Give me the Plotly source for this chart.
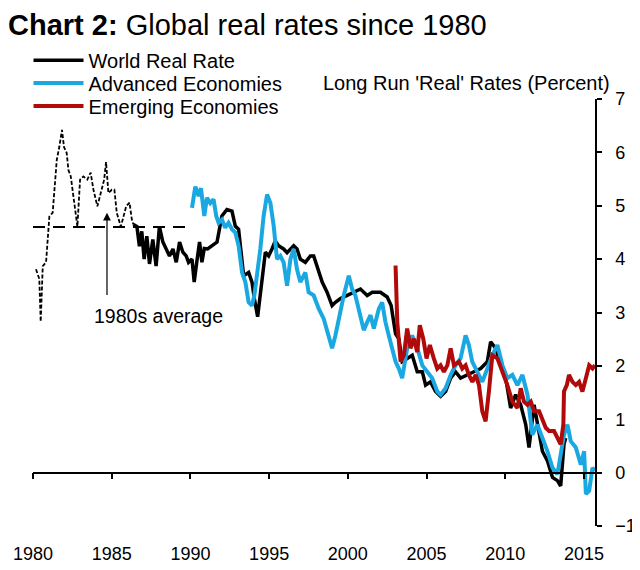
import plotly.graph_objects as go

# world real rate, early years (dashed, before the solid series begins)
early_years = [1980.19, 1980.40, 1980.49, 1980.62, 1980.83, 1981.04, 1981.25, 1981.51,
               1981.67, 1981.84, 1981.97, 1982.14, 1982.25, 1982.40, 1982.82, 1982.99,
               1983.20, 1983.45, 1983.66, 1983.84, 1984.09, 1984.37, 1984.52, 1984.64,
               1984.79, 1985.01, 1985.17, 1985.32, 1985.58, 1985.92, 1986.13, 1986.28,
               1986.38]
early_rate = [3.81, 3.63, 2.83, 3.87, 3.94, 4.80, 4.87, 5.86,
              6.10, 6.42, 6.10, 5.99, 5.67, 5.55, 4.61, 5.49,
              5.55, 5.49, 5.62, 5.30, 4.99, 5.30, 5.49, 5.82,
              5.24, 5.30, 5.30, 4.87, 4.61, 4.99, 5.06, 4.74,
              4.65]

# 1980s average
avg_years = [1980.0, 1990.1]
avg_rate = [4.6, 4.6]

world_years = [1986.38, 1986.60, 1986.76, 1986.91, 1987.06, 1987.23, 1987.40, 1987.61,
               1987.82, 1988.03, 1988.25, 1988.46, 1988.67, 1988.89, 1989.10, 1989.31,
               1989.52, 1989.73, 1989.88, 1990.10, 1990.24, 1990.41, 1990.58, 1990.73,
               1990.88, 1991.09, 1991.37, 1991.69, 1992.00, 1992.32, 1992.64, 1992.85,
               1993.06, 1993.38, 1993.70, 1993.91, 1994.06, 1994.27, 1994.76, 1994.97,
               1995.18, 1995.39, 1995.60, 1995.92, 1996.14, 1996.56, 1996.77, 1996.98,
               1997.30, 1997.62, 1997.83, 1998.05, 1998.37, 1998.68, 1999.00, 1999.21,
               1999.53, 1999.96, 2000.38, 2000.80, 2001.23, 2001.55, 2002.07, 2002.50,
               2002.75, 2003.03, 2003.24, 2003.45, 2003.77, 2004.09, 2004.41, 2004.73,
               2004.94, 2005.25, 2005.57, 2005.89, 2006.21, 2006.53, 2006.84, 2007.16,
               2008.01, 2008.44, 2008.86, 2009.07, 2009.39, 2009.71, 2010.03, 2010.34,
               2010.66, 2010.98, 2011.30, 2011.51, 2011.83, 2012.36, 2012.68, 2013.00,
               2013.31, 2013.52, 2013.73, 2013.84]
world_rate = [4.65, 4.61, 4.24, 4.52, 4.00, 4.43, 3.91, 4.37,
              3.87, 4.61, 4.32, 4.19, 4.06, 4.19, 3.94, 4.32,
              4.13, 4.06, 3.94, 4.00, 3.57, 3.96, 4.32, 3.94,
              4.20, 4.19, 4.25, 4.32, 4.81, 4.93, 4.90, 4.62,
              4.56, 3.69, 3.75, 3.57, 3.26, 2.92, 4.13, 4.06,
              4.19, 4.34, 4.25, 4.19, 4.12, 4.25, 4.19, 4.00,
              3.94, 4.06, 4.06, 3.88, 3.57, 3.38, 3.13, 3.19,
              3.26, 3.32, 3.38, 3.44, 3.32, 3.38, 3.38, 3.29,
              3.13, 2.60, 2.51, 2.08, 2.14, 2.20, 1.89, 1.89,
              1.64, 1.70, 1.52, 1.43, 1.52, 1.77, 1.89, 1.77,
              1.89, 1.95, 2.08, 2.45, 2.33, 2.01, 1.77, 1.21,
              1.46, 1.27, 0.90, 0.47, 1.27, 0.40, 0.22, -0.09,
              -0.15, -0.25, 0.53, 0.65]

adv_years = [1990.10, 1990.31, 1990.52, 1990.67, 1990.88, 1991.05, 1991.26, 1991.47,
             1991.64, 1991.79, 1992.00, 1992.21, 1992.42, 1992.64, 1992.85, 1993.06,
             1993.28, 1993.49, 1993.70, 1993.91, 1994.06, 1994.23, 1994.44, 1994.65,
             1994.87, 1995.08, 1995.29, 1995.50, 1995.71, 1995.92, 1996.14, 1996.35,
             1996.56, 1996.77, 1996.98, 1997.30, 1997.51, 1997.83, 1998.15, 1998.47,
             1998.79, 1999.00, 1999.21, 1999.42, 1999.74, 2000.06, 2000.27, 2000.48,
             2001.01, 2001.23, 2001.44, 2001.65, 2001.97, 2002.18, 2002.39, 2002.60,
             2002.82, 2003.03, 2003.24, 2003.45, 2003.77, 2004.09, 2004.41, 2004.73,
             2005.04, 2005.36, 2005.68, 2005.89, 2006.21, 2006.53, 2006.84, 2007.16,
             2007.48, 2007.69, 2007.90, 2008.22, 2008.54, 2009.18, 2009.50, 2009.82,
             2010.13, 2010.45, 2010.77, 2011.09, 2011.41, 2011.72, 2012.04, 2012.36,
             2012.68, 2013.00, 2013.31, 2013.52, 2013.73, 2013.95, 2014.16, 2014.48,
             2014.80, 2015.01, 2015.12, 2015.33, 2015.54, 2015.70]
adv_rate = [4.96, 5.36, 5.18, 5.33, 4.81, 5.15, 5.05, 5.12,
            4.81, 4.68, 4.74, 4.59, 4.68, 4.56, 4.50, 4.25,
            3.75, 3.57, 3.19, 3.13, 3.32, 3.69, 4.19, 4.81,
            5.21, 5.05, 4.62, 4.00, 4.06, 3.94, 3.50, 4.00,
            4.19, 3.81, 3.57, 3.75, 3.38, 3.32, 3.07, 2.88,
            2.57, 2.33, 2.57, 2.88, 3.32, 3.69, 3.44, 3.32,
            2.67, 2.82, 2.95, 2.70, 3.07, 3.19, 2.82, 2.57,
            2.30, 2.08, 1.95, 1.77, 2.33, 2.57, 2.33, 2.01,
            1.89, 1.77, 1.52, 1.46, 1.58, 1.83, 2.01, 2.14,
            2.57, 2.39, 2.08, 1.89, 1.70, 2.20, 2.39, 2.01,
            1.77, 1.83, 1.64, 1.83, 1.46, 0.71, 0.90, 0.65,
            0.40, 0.09, -0.03, 0.34, 0.71, 0.90, 0.59, 0.47,
            0.15, 0.40, -0.40, -0.34, 0.09, 0.03]

em_years = [2003.03, 2003.14, 2003.35, 2003.56, 2003.77, 2003.98, 2004.19, 2004.41,
            2004.57, 2004.79, 2005.00, 2005.21, 2005.46, 2005.68, 2005.89, 2006.10,
            2006.32, 2006.53, 2006.74, 2007.06, 2007.27, 2007.48, 2007.69, 2007.91,
            2008.12, 2008.33, 2008.54, 2008.75, 2008.96, 2009.18, 2009.50, 2009.82,
            2010.13, 2010.45, 2010.77, 2010.98, 2011.19, 2011.41, 2011.62, 2011.83,
            2012.15, 2012.57, 2012.78, 2013.10, 2013.31, 2013.52, 2013.69, 2013.73,
            2013.91, 2014.05, 2014.27, 2014.48, 2014.69, 2014.90, 2015.12, 2015.33,
            2015.54, 2015.70]
em_rate = [3.88, 2.82, 2.08, 2.20, 2.70, 2.33, 2.51, 2.26,
           2.76, 2.51, 2.14, 2.39, 2.14, 1.95, 2.01, 1.89,
           2.01, 2.33, 2.01, 2.08, 1.95, 2.01, 1.83, 1.70,
           1.83, 1.64, 1.15, 0.96, 1.52, 2.20, 2.14, 1.89,
           1.64, 1.33, 1.21, 1.58, 1.33, 1.27, 1.33, 1.15,
           1.15, 0.84, 0.78, 0.78, 0.65, 0.53, 0.90, 1.52,
           1.64, 1.83, 1.70, 1.64, 1.70, 1.52, 1.77, 2.01,
           1.95, 2.01]

year_ticks = [1980, 1985, 1990, 1995, 2000, 2005, 2010, 2015]
rate_ticks = [-1, 0, 1, 2, 3, 4, 5, 6, 7]

font = 'Liberation Sans, Arial, sans-serif'

fig = go.Figure()
fig.add_trace(go.Scatter(x=early_years, y=early_rate, mode='lines', showlegend=False,
                         line=dict(color='black', width=1.8, dash='4px,2px')))
fig.add_trace(go.Scatter(x=avg_years, y=avg_rate, mode='lines', showlegend=False, xaxis='x2',
                         line=dict(color='black', width=2, dash='12px,8px')))
fig.add_trace(go.Scatter(x=world_years, y=world_rate, mode='lines', name='World Real Rate',
                         legend='legend', line=dict(color='black', width=3.5)))
fig.add_trace(go.Scatter(x=adv_years, y=adv_rate, mode='lines', name='Advanced Economies',
                         legend='legend2', line=dict(color='#1AA8E2', width=4)))
fig.add_trace(go.Scatter(x=em_years, y=em_rate, mode='lines', name='Emerging Economies',
                         legend='legend3', line=dict(color='#B00A0A', width=4)))

# one legend per entry so the rows sit as tight as in the original
legend_style = dict(x=-0.008, xanchor='left', yanchor='middle',
                    bgcolor='rgba(0,0,0,0)', font=dict(size=20), itemwidth=50)

# page body has an 8px margin, so the figure is 632x562
fig.update_layout(
    width=632, height=562,
    margin=dict(l=25, r=45, t=91, b=43.5, autoexpand=False),
    plot_bgcolor='white', paper_bgcolor='white',
    font=dict(family=font, size=18, color='black'),
    title=dict(text='<b>Chart 2:</b> Global real rates since 1980',
               xref='container', x=0, xanchor='left',
               yref='container', y=0.9706, yanchor='middle',
               font=dict(size=29, family=font, color='black')),
    xaxis=dict(range=[1980, 2015.7], anchor='free', position=0.125,
               showline=True, linecolor='black', linewidth=1.5,
               ticks='outside', ticklen=6, tickwidth=1.5, tickcolor='black',
               tickvals=year_ticks, showticklabels=False,
               showgrid=False, zeroline=False),
    xaxis2=dict(range=[1980, 2015.7], overlaying='x', anchor='free', position=0,
                side='bottom', showline=False, ticks='', tickvals=year_ticks,
                ticklabelstandoff=15,
                showgrid=False, zeroline=False),
    yaxis=dict(range=[-1, 7], side='right', anchor='x',
               showline=True, linecolor='black', linewidth=1.5,
               ticks='outside', ticklen=5, tickwidth=1.5, tickcolor='black',
               tickvals=rate_ticks, ticklabelstandoff=10,
               showgrid=False, zeroline=False),
    legend=dict(y=1.0907, **legend_style),
    legend2=dict(y=1.0372, **legend_style),
    legend3=dict(y=0.9837, **legend_style),
    annotations=[
        dict(text="Long Run 'Real' Rates (Percent)", xref='paper', yref='paper',
             x=1.03, y=1.037, xanchor='right', yanchor='middle', showarrow=False,
             font=dict(size=20)),
        dict(text='1980s average', x=1988.0, y=2.94, xanchor='center', yanchor='middle',
             showarrow=False, font=dict(size=19.5)),
        dict(text='', x=1984.7, y=4.87, ax=1984.7, ay=3.3, axref='x', ayref='y',
             showarrow=True, arrowhead=2, arrowsize=1.3, arrowwidth=1.2, arrowcolor='black'),
    ],
)

fig.write_html("out.html")
